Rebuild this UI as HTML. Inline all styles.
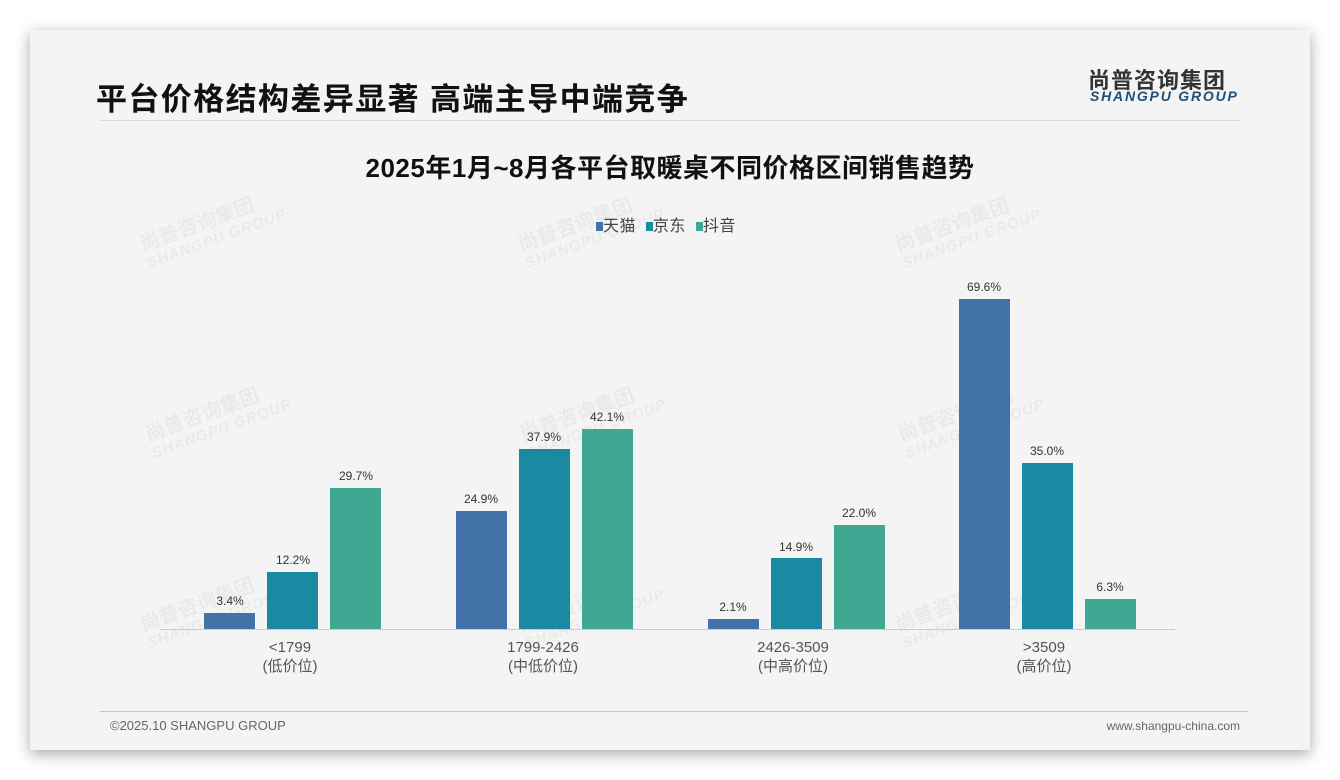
<!DOCTYPE html>
<html><head><meta charset="utf-8"><style>
body{margin:0;width:1340px;height:780px;background:#fff;position:relative;overflow:hidden;font-family:"Liberation Sans","Noto Sans CJK SC",sans-serif}
.card{position:absolute;left:30px;top:30px;width:1280px;height:720px;background:#f4f4f4;box-shadow:0 4px 14px rgba(0,0,0,.35)}
.a{position:absolute;white-space:nowrap}
.bar{position:absolute;width:51px}
.v{position:absolute;width:80px;text-align:center;font-size:12px;color:#333}
.x{position:absolute;width:200px;text-align:center;font-size:15px;color:#555;line-height:19px}
.wm{position:absolute;color:rgba(0,0,0,.045);font-weight:bold;transform:rotate(-20deg);font-size:20px;line-height:20px}
.wm span{display:block;font-size:15px;font-style:italic;letter-spacing:1px}
</style></head><body>
<div class="card"></div>
<div class="wm" style="left:140px;top:210px">尚普咨询集团<span>SHANGPU GROUP</span></div>
<div class="wm" style="left:518px;top:210px">尚普咨询集团<span>SHANGPU GROUP</span></div>
<div class="wm" style="left:895px;top:210px">尚普咨询集团<span>SHANGPU GROUP</span></div>
<div class="wm" style="left:145px;top:400px">尚普咨询集团<span>SHANGPU GROUP</span></div>
<div class="wm" style="left:520px;top:400px">尚普咨询集团<span>SHANGPU GROUP</span></div>
<div class="wm" style="left:898px;top:400px">尚普咨询集团<span>SHANGPU GROUP</span></div>
<div class="wm" style="left:140px;top:590px">尚普咨询集团<span>SHANGPU GROUP</span></div>
<div class="wm" style="left:518px;top:590px">尚普咨询集团<span>SHANGPU GROUP</span></div>
<div class="wm" style="left:895px;top:590px">尚普咨询集团<span>SHANGPU GROUP</span></div>
<div class="a" style="left:96px;top:74px;font-size:31px;letter-spacing:1.4px;font-weight:bold;color:#111">平台价格结构差异显著 高端主导中端竞争</div>
<div class="a" style="left:1088px;top:63px;font-size:22px;font-weight:bold;color:#333;letter-spacing:1px">尚普咨询集团</div>
<div class="a" style="left:1090px;top:88px;font-size:14px;font-weight:bold;font-style:italic;color:#1f4f78;letter-spacing:1.8px">SHANGPU GROUP</div>
<div class="a" style="left:100px;top:120px;width:1140px;height:1px;background:#ddd"></div>
<div class="a" style="left:0;width:1340px;top:148px;text-align:center;font-size:26px;letter-spacing:0.5px;font-weight:bold;color:#111">2025年1月~8月各平台取暖桌不同价格区间销售趋势</div>
<div class="a" style="left:596px;top:212px;font-size:16px;color:#444;letter-spacing:0.5px">
<span style="display:inline-block;width:7px;height:9px;background:#4272a8"></span>天猫&nbsp; <span style="display:inline-block;width:7px;height:9px;background:#1a8aa3"></span>京东&nbsp; <span style="display:inline-block;width:7px;height:9px;background:#40a793"></span>抖音</div>
<div class="a" style="left:160px;top:629px;width:1015px;height:1px;background:#ccc"></div>
<div class="bar" style="left:204px;top:613px;height:16px;background:#4272a8"></div>
<div class="bar" style="left:267px;top:572px;height:57px;background:#1a8aa3"></div>
<div class="bar" style="left:330px;top:488px;height:141px;background:#40a793"></div>
<div class="bar" style="left:456px;top:511px;height:118px;background:#4272a8"></div>
<div class="bar" style="left:519px;top:449px;height:180px;background:#1a8aa3"></div>
<div class="bar" style="left:582px;top:429px;height:200px;background:#40a793"></div>
<div class="bar" style="left:708px;top:619px;height:10px;background:#4272a8"></div>
<div class="bar" style="left:771px;top:558px;height:71px;background:#1a8aa3"></div>
<div class="bar" style="left:834px;top:525px;height:104px;background:#40a793"></div>
<div class="bar" style="left:959px;top:299px;height:330px;background:#4272a8"></div>
<div class="bar" style="left:1022px;top:463px;height:166px;background:#1a8aa3"></div>
<div class="bar" style="left:1085px;top:599px;height:30px;background:#40a793"></div>
<div class="v" style="left:190px;top:594px">3.4%</div>
<div class="v" style="left:253px;top:553px">12.2%</div>
<div class="v" style="left:316px;top:469px">29.7%</div>
<div class="v" style="left:441px;top:492px">24.9%</div>
<div class="v" style="left:504px;top:430px">37.9%</div>
<div class="v" style="left:567px;top:410px">42.1%</div>
<div class="v" style="left:693px;top:600px">2.1%</div>
<div class="v" style="left:756px;top:540px">14.9%</div>
<div class="v" style="left:819px;top:506px">22.0%</div>
<div class="v" style="left:944px;top:280px">69.6%</div>
<div class="v" style="left:1007px;top:444px">35.0%</div>
<div class="v" style="left:1070px;top:580px">6.3%</div>
<div class="x" style="left:190px;top:638px">&lt;1799<br>(低价位)</div>
<div class="x" style="left:443px;top:638px">1799-2426<br>(中低价位)</div>
<div class="x" style="left:693px;top:638px">2426-3509<br>(中高价位)</div>
<div class="x" style="left:944px;top:638px">&gt;3509<br>(高价位)</div>
<div class="a" style="left:100px;top:711px;width:1148px;height:1px;background:#b8c8d8"></div>
<div class="a" style="left:110px;top:718px;font-size:13px;color:#666">©2025.10 SHANGPU GROUP</div>
<div class="a" style="left:1090px;top:719px;width:150px;text-align:right;font-size:12px;color:#666">www.shangpu-china.com</div>
</body></html>
